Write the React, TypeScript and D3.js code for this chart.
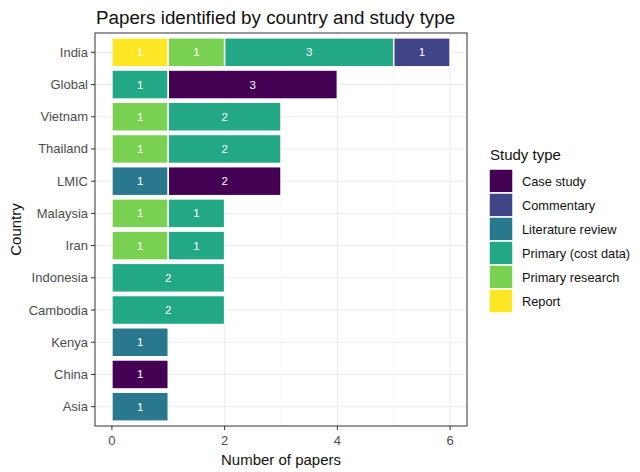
import React from "react";
import * as d3 from "d3";

// countries, top to bottom
const countries = [
  "India", "Global", "Vietnam", "Thailand", "LMIC", "Malaysia",
  "Iran", "Indonesia", "Cambodia", "Kenya", "China", "Asia",
];

// study types in legend order
const studyTypes = [
  "Case study", "Commentary", "Literature review",
  "Primary (cost data)", "Primary research", "Report",
];

// papers per country, one array per study type
const caseStudy = [0, 3, 0, 0, 2, 0, 0, 0, 0, 0, 1, 0];
const commentary = [1, 0, 0, 0, 0, 0, 0, 0, 0, 0, 0, 0];
const literatureReview = [0, 0, 0, 0, 1, 0, 0, 0, 0, 1, 0, 1];
const primaryCost = [3, 1, 2, 2, 0, 1, 1, 2, 2, 0, 0, 0];
const primaryResearch = [1, 0, 1, 1, 0, 1, 1, 0, 0, 0, 0, 0];
const report = [1, 0, 0, 0, 0, 0, 0, 0, 0, 0, 0, 0];

const xTicks = [0, 2, 4, 6];
const xMinor = [1, 3, 5];

const colors = ["#440154", "#414487", "#2A788E", "#22A884", "#7AD151", "#FDE725"];
const font = "'Liberation Sans', Arial, sans-serif";

const App = () => {
  const width = 640;
  const height = 472;
  const panel = { left: 95, right: 467, top: 33, bottom: 426 };

  const valuesByType = [caseStudy, commentary, literatureReview, primaryCost, primaryResearch, report];
  const rows = countries.map((c, i) => {
    const r: Record<string, any> = { country: c };
    studyTypes.forEach((t, j) => (r[t] = valuesByType[j][i]));
    return r;
  });

  // ggplot stacks the last level first (leftmost)
  const stack = d3.stack<any>().keys([...studyTypes].reverse());
  const series = stack(rows);

  const x = d3.scaleLinear().domain([-0.3, 6.3]).range([panel.left, panel.right]);
  const y = d3
    .scaleBand()
    .domain(countries)
    .range([panel.top, panel.bottom])
    .paddingInner(0.1)
    .paddingOuter(0.15);
  const yc = (c: string) => (y(c) as number) + y.bandwidth() / 2;

  const grey = "#4D4D4D";

  return (
    <svg width={width} height={height} style={{ position: "absolute", left: 0, top: 0, background: "white" }} fontFamily={font}>
      <rect x={0} y={0} width={width} height={height} fill="white" />
      <text x={96} y={24} fontSize={18.8} fill="#111">Papers identified by country and study type</text>

      {/* grid */}
      {xMinor.map((t) => (
        <line key={"m" + t} x1={x(t)} x2={x(t)} y1={panel.top} y2={panel.bottom} stroke="#F2F2F2" strokeWidth={0.6} />
      ))}
      {xTicks.map((t) => (
        <line key={"M" + t} x1={x(t)} x2={x(t)} y1={panel.top} y2={panel.bottom} stroke="#EBEBEB" strokeWidth={1} />
      ))}
      {countries.map((c) => (
        <line key={"h" + c} x1={panel.left} x2={panel.right} y1={yc(c)} y2={yc(c)} stroke="#EBEBEB" strokeWidth={1} />
      ))}

      {/* bars */}
      {series.map((s) => {
        const color = colors[studyTypes.indexOf(s.key)];
        return s.map((d, i) => {
          const v = d[1] - d[0];
          if (v <= 0) return null;
          const c = countries[i];
          return (
            <g key={s.key + c}>
              <rect
                x={x(d[0])}
                y={y(c)}
                width={x(d[1]) - x(d[0])}
                height={y.bandwidth()}
                fill={color}
                stroke="white"
                strokeWidth={1.5}
              />
              <text x={(x(d[0]) + x(d[1])) / 2} y={yc(c) + 4} textAnchor="middle" fontSize={11.5} fill="white">
                {v}
              </text>
            </g>
          );
        });
      })}

      <rect x={panel.left} y={panel.top} width={panel.right - panel.left} height={panel.bottom - panel.top} fill="none" stroke="#333" strokeWidth={1} />

      {/* y axis */}
      {countries.map((c) => (
        <g key={"yl" + c}>
          <line x1={panel.left - 4} x2={panel.left} y1={yc(c)} y2={yc(c)} stroke="#333" />
          <text x={panel.left - 7} y={yc(c) + 4.5} textAnchor="end" fontSize={13} fill={grey}>{c}</text>
        </g>
      ))}
      <text transform={`translate(21,${(panel.top + panel.bottom) / 2}) rotate(-90)`} textAnchor="middle" fontSize={15} fill="#111">Country</text>

      {/* x axis */}
      {xTicks.map((t) => (
        <g key={"xt" + t}>
          <line x1={x(t)} x2={x(t)} y1={panel.bottom} y2={panel.bottom + 4} stroke="#333" />
          <text x={x(t)} y={panel.bottom + 19} textAnchor="middle" fontSize={13} fill={grey}>{t}</text>
        </g>
      ))}
      <text x={(panel.left + panel.right) / 2} y={465} textAnchor="middle" fontSize={15} fill="#111">Number of papers</text>

      {/* legend */}
      <text x={490} y={160} fontSize={15} fill="#111">Study type</text>
      {studyTypes.map((t, i) => (
        <g key={"lg" + t} transform={`translate(489,${169 + i * 24})`}>
          <rect x={0} y={0} width={24} height={24} fill={colors[i]} stroke="white" strokeWidth={1.5} />
          <text x={33} y={16.5} fontSize={12.8} fill="#111">{t}</text>
        </g>
      ))}
    </svg>
  );
};

export default App;
